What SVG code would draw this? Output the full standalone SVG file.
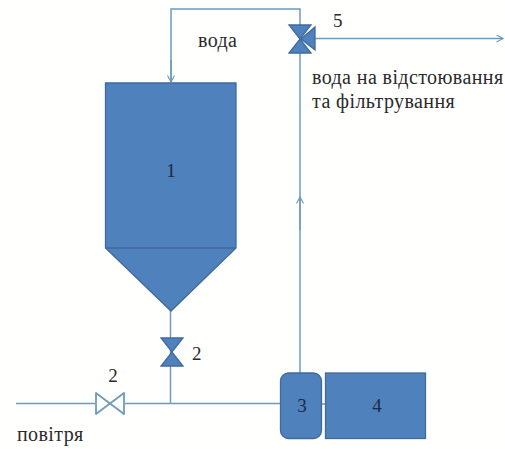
<svg xmlns="http://www.w3.org/2000/svg" width="505" height="449" viewBox="0 0 505 449">
<defs>
<marker id="arr" markerWidth="10" markerHeight="10" refX="7.5" refY="4" orient="auto" markerUnits="userSpaceOnUse"><path d="M1 0.5L7.5 4L1 7.5" fill="none" stroke="#6f9bb8" stroke-width="1.2"/></marker>
</defs>
<style>
.l{fill:none;stroke:#6f9bb8;stroke-width:1.5}
.n{fill:#4f81bd;stroke:#3f6a9c;stroke-width:1.3}
.t{font-family:"Liberation Serif","DejaVu Serif",serif;font-size:20px;letter-spacing:.4px;fill:#2a2a2a}
.g{font-family:"Liberation Serif","DejaVu Serif",serif;font-size:19px;fill:#2a2a2a}
.d{font-family:"Liberation Serif","DejaVu Serif",serif;font-size:19px;fill:#1a2a44;text-anchor:middle}
</style>
<rect width="505" height="449" fill="#fffffe"/>
<g id="connectors">
<path class="l" d="M171 82V9H300V373"/>
<path class="l" d="M171 60V82" marker-end="url(#arr)"/>
<path class="l" d="M300 230V197" marker-end="url(#arr)"/>
<path class="l" d="M314 38.500H503" marker-end="url(#arr)"/>
<path class="l" d="M170.500 310V404"/>
<path class="l" d="M16 403.500H95M125 403.500H281"/>
<path class="l" d="M322 404H326"/>
</g>
<g id="node-1">
<path class="n" d="M105.500 83H236V248L171 311L105.500 248Z"/>
<path fill="none" stroke="#3f6a9c" stroke-width="1.3" d="M105.500 248H236"/>
<text class="d" x="171" y="177">1</text>
</g>
<g id="valve-2-vertical">
<path class="n" d="M161 338H183L161 366H183Z"/>
<text class="g" x="192" y="360">2</text>
</g>
<g id="valve-2-horizontal">
<path d="M96 393V414L124 393V414Z" fill="#fff" stroke="#6f9bb8" stroke-width="1.8" stroke-linejoin="round"/>
<text class="g" x="113" y="382" text-anchor="middle">2</text>
</g>
<g id="node-3">
<rect class="n" x="280.500" y="373" width="41" height="65.500" rx="8"/>
<text class="d" x="302" y="412">3</text>
</g>
<g id="node-4">
<rect class="n" x="325.500" y="373" width="100" height="65.500"/>
<text class="d" x="377" y="412">4</text>
</g>
<g id="valve-5">
<path class="n" d="M289 25H311L289 53H311Z"/>
<path class="n" d="M315 27V50L301 39Z"/>
<text class="g" x="333" y="27">5</text>
</g>
<text class="t" x="198" y="47">вода</text>
<text class="t" x="312" y="84">вода на відстоювання</text>
<text class="t" x="312" y="108">та фільтрування</text>
<text class="t" x="17" y="441">повітря</text>
</svg>
